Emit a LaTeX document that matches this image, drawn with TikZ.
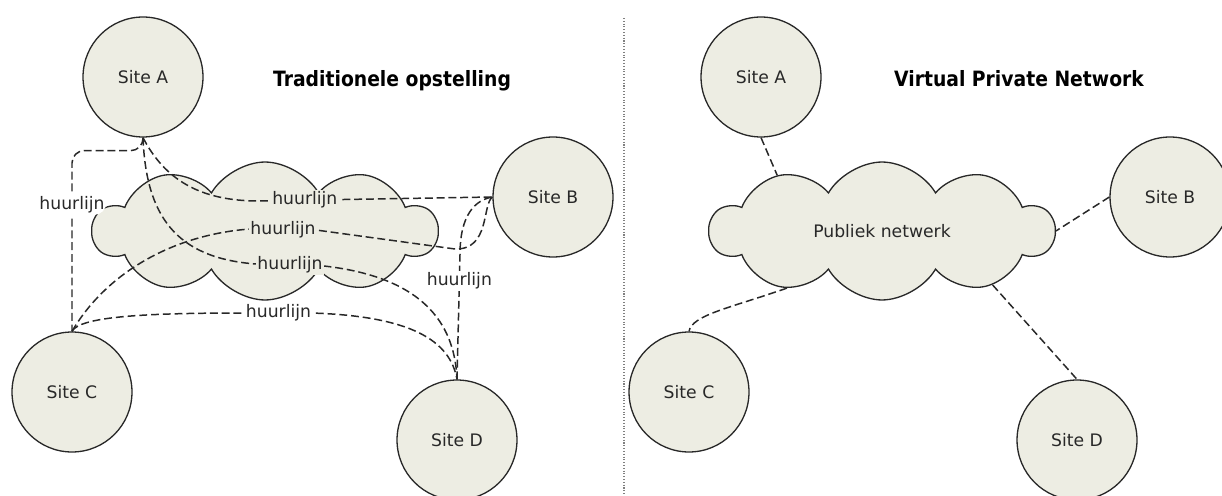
\documentclass[tikz,border=0pt]{standalone}
\usepackage{fontspec}
\setmainfont{DejaVu Sans}
\newfontfamily\titlefont[FakeStretch=0.89]{DejaVu Sans}
\usetikzlibrary{shapes.symbols}
\definecolor{sitefill}{RGB}{237,237,227}
\definecolor{ink}{RGB}{40,40,40}
\begin{document}
\begin{tikzpicture}[x=0.02cm, y=-0.02cm,
  site/.style={circle, draw=ink, line width=0.75pt, fill=sitefill, minimum size=2.4cm, inner sep=0pt, font=\fontsize{9.8}{12}\selectfont, text=ink},
  net/.style={cloud, cloud puffs=10, cloud puff arc=120, shape border rotate=18, aspect=2.5, draw=ink, line width=0.75pt, fill=sitefill, minimum width=6.88cm, minimum height=2.76cm, inner sep=0pt, font=\fontsize{9.8}{12}\selectfont, text=ink},
  lease/.style={draw=ink, line width=0.85pt, dash pattern=on 4.5pt off 2.2pt},
  tag/.style={font=\fontsize{9.8}{12}\selectfont, text=ink, fill=white, inner sep=1pt},
  heading/.style={font=\titlefont\bfseries\fontsize{12}{14}\selectfont, text=black}]
\useasboundingbox (0,0) rectangle (1222,496);
% traditional setup
\node[net] (net1) at (265,231) {};
\node[site] (a1) at (143,77) {Site A};
\node[site] (b1) at (553,197) {Site B};
\node[site] (c1) at (72,392) {Site C};
\node[site] (d1) at (457,440) {Site D};
\node[heading] (t1) at (392,81) {Traditionele opstelling};
\draw[lease, rounded corners=7] (a1.south) -- ++(0,13) -| node[tag, pos=0.65] {huurlijn} (c1.north);
\draw[lease] (a1.south) .. controls (165,180) and (200,200) .. (255,201) -- node[tag, fill=sitefill, pos=0.21] {huurlijn} (b1.west);
\draw[lease] (a1.south) .. controls (146,215) and (175,258) .. (256,264) -- node[tag, fill=sitefill] {huurlijn} (324,266) .. controls (430,278) and (455,330) .. (d1.north);
\draw[lease] (c1.north) .. controls (105,275) and (170,235) .. (250,229) -- node[tag, fill=sitefill] {huurlijn} (316,230) -- (455,249) .. controls (490,250) and (482,205) .. (b1.west);
\draw[lease] (c1.north) .. controls (80,316) and (150,313) .. (246,313) -- node[tag] {huurlijn} (311,313) .. controls (410,316) and (450,340) .. (d1.north);
\draw[lease] (d1.north) -- node[tag, pos=0.79] {huurlijn} ++(3,-125) .. controls (460,215) and (475,200) .. (b1.west);
% divider
\draw[gray, densely dotted, line width=0.6pt] (624,18) -- (624,496);
% virtual private network
\node[net] (net2) at (882,231) {Publiek netwerk};
\node[site] (a2) at (761,77) {Site A};
\node[site] (b2) at (1170,197) {Site B};
\node[site] (c2) at (689,392) {Site C};
\node[site] (d2) at (1077,440) {Site D};
\node[heading] (t2) at (1019,79) {Virtual Private Network};
\draw[lease] (a2.south) -- (net2.152);
\draw[lease] (b2.west) -- (net2.0);
\draw[lease] (net2.211) .. controls (730,308) and (692,315) .. (c2.north);
\draw[lease] (net2.334) -- (d2.north);
\end{tikzpicture}
\end{document}
